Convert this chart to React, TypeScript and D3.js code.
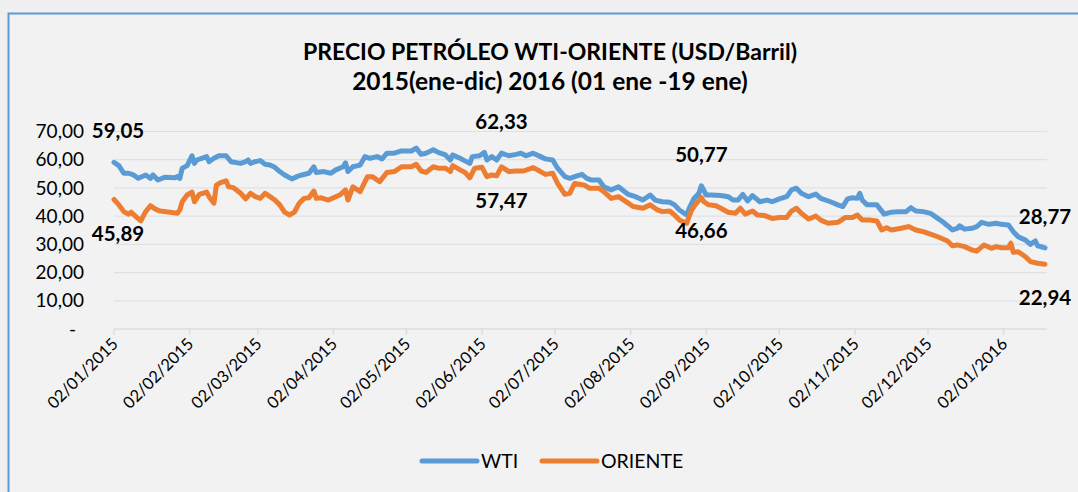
import React from "react";
import * as d3 from "d3";

const title1 = "PRECIO PETRÓLEO WTI-ORIENTE (USD/Barril)";
const title2 = "2015(ene-dic) 2016 (01 ene -19 ene)";

const seriesNames = ["WTI", "ORIENTE"];
const seriesColors = ["#5b9bd5", "#ed7d31"];

const yTicks = [0, 10, 20, 30, 40, 50, 60, 70];
const xTickDates = [
  "2015-01-02", "2015-02-02", "2015-03-02", "2015-04-02", "2015-05-02", "2015-06-02",
  "2015-07-02", "2015-08-02", "2015-09-02", "2015-10-02", "2015-11-02", "2015-12-02", "2016-01-02",
];

const wtiDates = [
  "2015-01-02","2015-01-04","2015-01-06","2015-01-08","2015-01-10","2015-01-12","2015-01-15","2015-01-17","2015-01-18","2015-01-20",
  "2015-01-23","2015-01-27","2015-01-28","2015-01-29","2015-01-30","2015-02-01","2015-02-03","2015-02-04","2015-02-05","2015-02-07",
  "2015-02-09","2015-02-10","2015-02-12","2015-02-14","2015-02-17","2015-02-19","2015-02-23","2015-02-25","2015-02-26","2015-02-27",
  "2015-03-01","2015-03-03","2015-03-05","2015-03-07","2015-03-09","2015-03-11","2015-03-13","2015-03-16","2015-03-18","2015-03-20",
  "2015-03-23","2015-03-25","2015-03-26","2015-03-29","2015-04-01","2015-04-03","2015-04-06","2015-04-07","2015-04-08","2015-04-10",
  "2015-04-13","2015-04-15","2015-04-17","2015-04-20","2015-04-22","2015-04-24","2015-04-27","2015-04-30","2015-05-04","2015-05-06",
  "2015-05-08","2015-05-10","2015-05-13","2015-05-15","2015-05-18","2015-05-20","2015-05-21","2015-05-24","2015-05-26","2015-05-28",
  "2015-05-29","2015-06-01","2015-06-03","2015-06-04","2015-06-06","2015-06-08","2015-06-10","2015-06-13","2015-06-16","2015-06-18",
  "2015-06-20","2015-06-23","2015-06-26","2015-06-28","2015-07-01","2015-07-03","2015-07-06","2015-07-08","2015-07-11","2015-07-13",
  "2015-07-15","2015-07-17","2015-07-20","2015-07-22","2015-07-25","2015-07-28","2015-08-01","2015-08-04","2015-08-07","2015-08-10",
  "2015-08-12","2015-08-15","2015-08-18","2015-08-20","2015-08-22","2015-08-25","2015-08-26","2015-08-28","2015-08-30","2015-08-31",
  "2015-09-02","2015-09-04","2015-09-08","2015-09-11","2015-09-13","2015-09-15","2015-09-17","2015-09-19","2015-09-21","2015-09-24",
  "2015-09-27","2015-09-29","2015-10-02","2015-10-05","2015-10-07","2015-10-09","2015-10-11","2015-10-14","2015-10-17","2015-10-19",
  "2015-10-23","2015-10-26","2015-10-28","2015-10-30","2015-11-01","2015-11-03","2015-11-04","2015-11-05","2015-11-07","2015-11-11",
  "2015-11-14","2015-11-17","2015-11-20","2015-11-23","2015-11-25","2015-11-27","2015-11-30","2015-12-03","2015-12-06","2015-12-08",
  "2015-12-10","2015-12-12","2015-12-14","2015-12-15","2015-12-17","2015-12-20","2015-12-22","2015-12-24","2015-12-27","2015-12-30",
  "2016-01-01","2016-01-04","2016-01-06","2016-01-08","2016-01-11","2016-01-13","2016-01-15","2016-01-16","2016-01-19",
];
const wtiValues = [
  59.05,57.9,55.2,55.2,54.6,53.4,54.6,53.4,54.6,52.8,
  53.8,53.6,54.0,53.4,57.0,57.9,61.4,58.7,59.9,60.5,
  61.1,59.3,60.5,61.4,61.4,59.3,58.7,59.3,59.9,58.7,
  59.3,59.7,58.4,58.1,57.3,55.8,54.6,53.2,54.0,54.6,
  55.2,57.5,55.5,55.8,55.2,56.4,57.5,58.9,55.8,57.5,
  58.1,61.1,60.5,61.1,60.3,62.3,62.3,63.1,63.1,64.1,
  61.9,62.3,63.5,62.6,61.7,59.9,61.7,60.5,59.6,58.7,
  61.1,61.4,62.6,59.9,61.1,59.9,62.33,61.4,61.9,62.3,
  61.4,62.3,61.1,60.3,59.9,57.0,54.0,53.4,54.3,54.8,
  53.4,52.8,52.8,50.4,49.3,50.4,47.7,46.9,45.7,47.5,
  45.7,45.1,44.9,44.0,42.2,40.4,42.8,46.3,48.1,50.77,
  47.5,47.5,47.3,46.9,45.7,45.7,47.7,45.4,47.3,45.1,
  45.7,45.1,46.1,46.9,49.3,49.9,48.1,46.9,47.8,46.3,
  45.1,44.0,43.4,46.1,46.5,46.3,48.1,45.7,44.0,44.0,
  40.7,41.4,41.6,41.6,43.0,41.8,41.6,41.0,39.2,38.0,
  36.6,35.1,35.7,36.6,35.4,35.7,36.3,37.8,37.1,37.5,
  37.1,36.9,34.5,32.7,31.5,30.0,31.2,29.5,28.77,
];

const orienteDates = [
  "2015-01-02","2015-01-04","2015-01-06","2015-01-08","2015-01-09","2015-01-11","2015-01-13","2015-01-15","2015-01-17","2015-01-19",
  "2015-01-21","2015-01-25","2015-01-28","2015-01-29","2015-01-30","2015-02-01","2015-02-03","2015-02-04","2015-02-06","2015-02-09",
  "2015-02-10","2015-02-12","2015-02-13","2015-02-15","2015-02-17","2015-02-18","2015-02-20","2015-02-23","2015-02-25","2015-02-27",
  "2015-03-01","2015-03-03","2015-03-05","2015-03-07","2015-03-09","2015-03-11","2015-03-13","2015-03-15","2015-03-17","2015-03-19",
  "2015-03-21","2015-03-23","2015-03-25","2015-03-26","2015-03-28","2015-03-31","2015-04-03","2015-04-05","2015-04-07","2015-04-08",
  "2015-04-10","2015-04-13","2015-04-16","2015-04-18","2015-04-21","2015-04-24","2015-04-27","2015-04-30","2015-05-04","2015-05-06",
  "2015-05-08","2015-05-10","2015-05-13","2015-05-15","2015-05-18","2015-05-20","2015-05-21","2015-05-24","2015-05-26","2015-05-28",
  "2015-05-30","2015-06-02","2015-06-04","2015-06-06","2015-06-08","2015-06-10","2015-06-13","2015-06-16","2015-06-19","2015-06-23",
  "2015-06-26","2015-06-28","2015-07-01","2015-07-03","2015-07-06","2015-07-08","2015-07-10","2015-07-12","2015-07-14","2015-07-16",
  "2015-07-20","2015-07-22","2015-07-25","2015-07-28","2015-08-01","2015-08-03","2015-08-07","2015-08-10","2015-08-13","2015-08-15",
  "2015-08-18","2015-08-20","2015-08-22","2015-08-25","2015-08-27","2015-08-29","2015-08-31","2015-09-01","2015-09-03","2015-09-06",
  "2015-09-08","2015-09-11","2015-09-14","2015-09-16","2015-09-18","2015-09-21","2015-09-23","2015-09-26","2015-09-29","2015-10-02",
  "2015-10-05","2015-10-07","2015-10-09","2015-10-11","2015-10-14","2015-10-17","2015-10-19","2015-10-22","2015-10-26","2015-10-29",
  "2015-11-01","2015-11-03","2015-11-05","2015-11-08","2015-11-11","2015-11-13","2015-11-15","2015-11-17","2015-11-21","2015-11-24",
  "2015-11-27","2015-11-30","2015-12-03","2015-12-06","2015-12-10","2015-12-12","2015-12-14","2015-12-17","2015-12-20","2015-12-22",
  "2015-12-25","2015-12-28","2015-12-30","2016-01-01","2016-01-04","2016-01-05","2016-01-06","2016-01-08","2016-01-11","2016-01-13",
  "2016-01-16","2016-01-19",
];
const orienteValues = [
  45.89,44.0,41.6,40.7,41.4,39.8,38.3,41.6,43.7,42.5,
  41.8,41.4,41.0,42.2,45.1,47.5,48.5,45.1,47.7,48.5,
  46.9,44.6,51.0,52.0,52.5,50.4,50.1,48.1,46.1,48.1,
  46.9,46.3,48.1,46.9,45.7,44.0,41.4,40.4,41.4,44.6,
  46.3,46.5,48.9,46.3,46.5,45.7,46.9,47.7,49.3,45.7,
  50.4,48.7,54.0,54.0,52.2,55.5,55.8,57.5,57.5,58.4,
  56.0,55.5,57.5,57.0,57.0,55.8,57.9,56.4,55.5,53.6,
  57.0,57.3,54.0,54.6,54.3,57.47,55.8,56.0,56.0,57.2,
  55.8,54.8,55.2,51.6,47.7,48.1,51.6,51.3,51.0,49.9,
  49.9,48.7,46.3,46.9,44.6,43.4,42.8,44.0,42.2,41.6,
  41.8,40.4,38.6,37.5,42.2,44.6,46.66,45.1,44.0,43.7,
  42.8,41.4,41.0,42.8,40.7,41.8,40.4,40.2,39.2,39.5,
  39.5,41.8,42.8,41.0,39.0,40.0,38.6,37.5,37.8,39.5,
  39.5,40.4,38.6,38.6,38.3,35.1,35.9,35.1,35.7,36.3,
  35.1,34.5,33.6,32.7,31.2,29.5,29.8,29.2,28.0,27.6,
  29.8,28.6,29.2,28.8,28.8,30.4,27.2,27.4,25.6,23.9,
  23.3,22.94,
];

// data labels: series index, date, placement
const labelSeries = [0, 1, 0, 1, 0, 1, 0, 1];
const labelDates = ["2015-01-02", "2015-01-02", "2015-06-10", "2015-06-10", "2015-08-31", "2015-08-31", "2016-01-19", "2016-01-19"];
const labelPlacement = ["above", "below", "above", "below", "above", "below", "above", "below"];

const W = 1078;
const H = 492;
const FONT = "Lato, 'Open Sans', sans-serif";

const parse = d3.timeParse("%Y-%m-%d");
const fmtTick = d3.timeFormat("%d/%m/%Y");
const fmtVal = (v: number) => v.toFixed(2).replace(".", ",");
const fmtAxis = (v: number) => (v === 0 ? "-" : v.toFixed(2).replace(".", ","));

export default function App() {
  const x = d3
    .scaleTime()
    .domain([parse("2015-01-02") as Date, parse("2016-01-19") as Date])
    .range([114, 1045]);
  const y = d3.scaleLinear().domain([0, 70]).range([329, 131.5]);

  const wti = wtiDates.map((d, i) => ({ date: parse(d) as Date, value: wtiValues[i] }));
  const ori = orienteDates.map((d, i) => ({ date: parse(d) as Date, value: orienteValues[i] }));
  const series = [wti, ori];

  const line = d3
    .line<{ date: Date; value: number }>()
    .x((d) => x(d.date))
    .y((d) => y(d.value));

  const gridX0 = x.range()[0];
  const gridX1 = x.range()[1] + 2;

  const labels = labelDates.map((ds, i) => {
    const s = series[labelSeries[i]];
    const pt = s.find((p) => +p.date === +(parse(ds) as Date))!;
    const px = x(pt.date);
    const py = y(pt.value);
    const halfW = 26;
    const cx = Math.max(px, 92 + halfW);
    const by = labelPlacement[i] === "above" ? py - 24 : py + 41;
    return { text: fmtVal(pt.value), cx, by };
  });

  // legend layout
  const legendY = 461;
  const legendItems = [
    { x0: 422, name: seriesNames[0], color: seriesColors[0] },
    { x0: 542, name: seriesNames[1], color: seriesColors[1] },
  ];

  return (
    <div style={{ position: "absolute", left: 0, top: 0 }}>
      <svg width={W} height={H} style={{ display: "block", fontFamily: FONT }}>
        <rect x={0} y={0} width={W} height={H} fill="#f0f0f0" />
        <rect x={8.5} y={13.5} width={W + 20} height={H + 20} fill="#f2f2f2" stroke="#5b9bd5" strokeWidth={2} />

        <text x={550} y={60} textAnchor="middle" fontSize={23} fontWeight={700} fill="#000">
          {title1}
        </text>
        <text x={550} y={90} textAnchor="middle" fontSize={24.5} fontWeight={700} fill="#000">
          {title2}
        </text>

        {yTicks.map((t) => (
          <g key={t}>
            {t > 0 && (
              <line x1={gridX0} x2={gridX1} y1={y(t)} y2={y(t)} stroke="#dde1e6" strokeWidth={1.2} />
            )}
            <text
              x={t === 0 ? 76 : 84}
              y={y(t)}
              dy="0.35em"
              textAnchor="end"
              fontSize={19}
              fill="#000"
            >
              {fmtAxis(t)}
            </text>
          </g>
        ))}

        <line x1={gridX0} x2={gridX1} y1={y(0)} y2={y(0)} stroke="#d9dde3" strokeWidth={1.5} />
        {xTickDates.map((ds) => {
          const d = parse(ds) as Date;
          const tx = x(d);
          return (
            <g key={ds}>
              <line x1={tx} x2={tx} y1={y(0)} y2={y(0) + 6} stroke="#d9dde3" strokeWidth={1.5} />
              <text
                transform={`translate(${tx + 5},${y(0) + 16}) rotate(-45)`}
                textAnchor="end"
                fontSize={16.5}
                fill="#000"
              >
                {fmtTick(d)}
              </text>
            </g>
          );
        })}

        {series.map((s, i) => (
          <path
            key={i}
            d={line(s) || ""}
            fill="none"
            stroke={seriesColors[i]}
            strokeWidth={5}
            strokeLinejoin="round"
            strokeLinecap="round"
          />
        ))}

        {labels.map((l, i) => (
          <text key={i} x={l.cx} y={l.by} textAnchor="middle" fontSize={20.5} fontWeight={700} fill="#000">
            {l.text}
          </text>
        ))}

        {legendItems.map((it) => (
          <g key={it.name}>
            <line x1={it.x0} x2={it.x0 + 55} y1={legendY} y2={legendY} stroke={it.color} strokeWidth={5} strokeLinecap="round" />
            <text x={it.x0 + 59} y={legendY} dy="0.36em" fontSize={19.5} fill="#000">
              {it.name}
            </text>
          </g>
        ))}
      </svg>
    </div>
  );
}
